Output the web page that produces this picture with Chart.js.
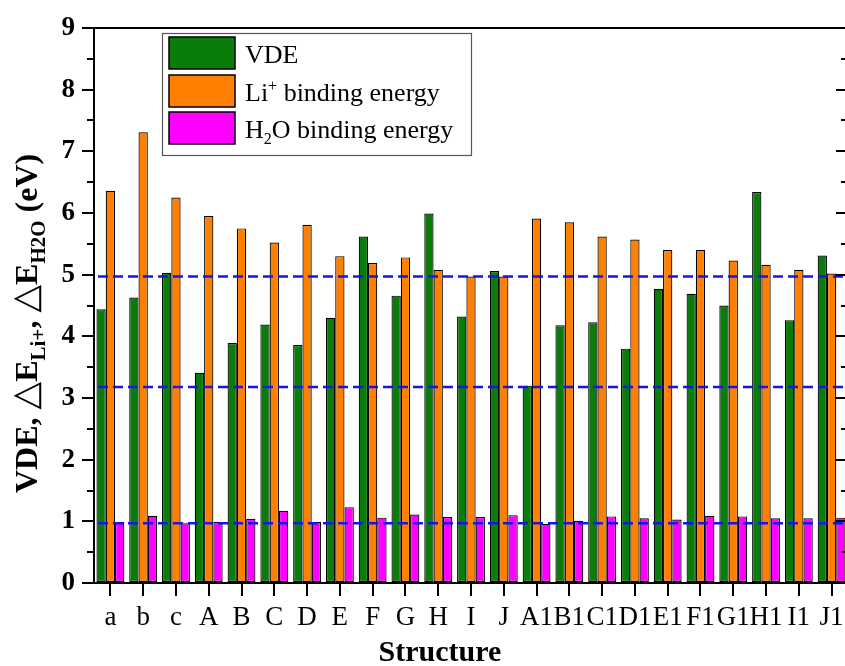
<!DOCTYPE html>
<html>
<head>
<meta charset="utf-8">
<script src="https://cdn.jsdelivr.net/npm/chart.js@4.4.1/dist/chart.umd.min.js"></script>
<style>
  html, body { margin: 0; padding: 0; overflow: hidden; background: #fff; }
  #chart { display: block; }
</style>
</head>
<body>
<canvas id="chart" width="860" height="666"></canvas>
<script>
const structures = ["a", "b", "c", "A", "B", "C", "D", "E", "F", "G", "H", "I", "J",
  "A1", "B1", "C1", "D1", "E1", "F1", "G1", "H1", "I1", "J1"];
const vde = [4.44, 4.63, 5.03, 3.41, 3.89, 4.19, 3.86, 4.30, 5.62, 4.66, 5.99, 4.32, 5.06,
  3.20, 4.18, 4.23, 3.80, 4.77, 4.69, 4.50, 6.34, 4.26, 5.31];
const liBinding = [6.36, 7.31, 6.25, 5.95, 5.75, 5.52, 5.81, 5.30, 5.19, 5.28, 5.08, 4.97, 4.97,
  5.91, 5.85, 5.62, 5.57, 5.40, 5.40, 5.23, 5.16, 5.08, 5.02];
const h2oBinding = [0.99, 1.09, 0.97, 0.99, 1.04, 1.17, 0.99, 1.23, 1.06, 1.11, 1.07, 1.07, 1.10,
  0.96, 1.01, 1.08, 1.05, 1.03, 1.09, 1.08, 1.05, 1.05, 1.06];
const refLines = [4.97, 3.18, 0.97];
const yTicks = [0, 1, 2, 3, 4, 5, 6, 7, 8, 9];

const SERIF = "'Liberation Serif', 'Times New Roman', serif";
const GREEN = "#0a7c0a";
const ORANGE = "#ff8000";
const MAGENTA = "#ff00ff";

// draws a run of text pieces, each with its own font and vertical shift
function drawRuns(ctx, runs, x, y) {
  runs.forEach((r) => {
    ctx.font = r.font;
    ctx.fillText(r.text, x, y + (r.dy || 0));
    x += ctx.measureText(r.text).width;
  });
}

const decor = {
  id: "decor",
  afterDatasetsDraw(chart) {
    const ctx = chart.ctx;
    const area = chart.chartArea;
    const y = chart.scales.y;
    ctx.save();
    ctx.strokeStyle = "#1414ee";
    ctx.lineWidth = 2.5;
    ctx.setLineDash([10, 5]);
    refLines.forEach((v) => {
      const py = y.getPixelForValue(v);
      ctx.beginPath();
      ctx.moveTo(area.left + 4, py);
      ctx.lineTo(area.right, py);
      ctx.stroke();
    });
    ctx.restore();
  },
  afterDraw(chart) {
    const ctx = chart.ctx;
    const area = chart.chartArea;
    const y = chart.scales.y;
    ctx.save();

    // top and right frame
    ctx.strokeStyle = "#000";
    ctx.lineWidth = 2;
    ctx.beginPath();
    ctx.moveTo(area.left - 12, area.top);
    ctx.lineTo(area.right, area.top);
    ctx.lineTo(area.right, area.bottom);
    ctx.stroke();

    // minor ticks on left, inward ticks on right
    for (let v = 0; v <= 9; v += 0.5) {
      const py = Math.round(y.getPixelForValue(v));
      const major = v % 1 === 0;
      ctx.beginPath();
      if (!major) {
        ctx.moveTo(area.left - 7, py);
        ctx.lineTo(area.left, py);
      }
      ctx.moveTo(area.right - (major ? 12 : 7), py);
      ctx.lineTo(area.right, py);
      ctx.stroke();
    }

    // legend
    ctx.strokeStyle = "#555";
    ctx.lineWidth = 1.2;
    ctx.strokeRect(162.5, 33.5, 309, 122);
    const rows = [
      { color: GREEN, top: 37, runs: [{ text: "VDE", font: "26px " + SERIF }] },
      { color: ORANGE, top: 75, runs: [
        { text: "Li", font: "26px " + SERIF },
        { text: "+", font: "16px " + SERIF, dy: -10 },
        { text: " binding energy", font: "26px " + SERIF }] },
      { color: MAGENTA, top: 112, runs: [
        { text: "H", font: "26px " + SERIF },
        { text: "2", font: "16px " + SERIF, dy: 6 },
        { text: "O binding energy", font: "26px " + SERIF }] },
    ];
    rows.forEach((r) => {
      ctx.fillStyle = r.color;
      ctx.fillRect(169, r.top, 66, 32);
      ctx.strokeStyle = "#000";
      ctx.lineWidth = 1.5;
      ctx.strokeRect(169, r.top, 66, 32);
      ctx.fillStyle = "#000";
      ctx.textBaseline = "alphabetic";
      ctx.textAlign = "left";
      drawRuns(ctx, r.runs, 245, r.top + 26);
    });

    // y axis title with subscripts
    ctx.save();
    ctx.translate(37, 493);
    ctx.rotate(-Math.PI / 2);
    const big = "bold 32px " + SERIF;
    const sub = "bold 21px " + SERIF;
    const tri = "36px 'DejaVu Sans', sans-serif";
    drawRuns(ctx, [
      { text: "VDE, ", font: big },
      { text: "\u25B3", font: tri },
      { text: "E", font: big },
      { text: "Li+", font: sub, dy: 8 },
      { text: ", ", font: big },
      { text: "\u25B3", font: tri },
      { text: "E", font: big },
      { text: "H2O", font: sub, dy: 8 },
      { text: " (eV)", font: big },
    ], 0, 0);
    ctx.restore();

    // x axis title
    ctx.font = "bold 30px " + SERIF;
    ctx.textAlign = "center";
    ctx.fillText("Structure", 440, 661);
    ctx.restore();
  },
};

const barStyle = { borderColor: "#000", borderWidth: 1.2, borderSkipped: false };

new Chart(document.getElementById("chart"), {
  type: "bar",
  data: {
    labels: structures,
    datasets: [
      { label: "VDE", data: vde, backgroundColor: GREEN, ...barStyle },
      { label: "Li+ binding energy", data: liBinding, backgroundColor: ORANGE, ...barStyle },
      { label: "H2O binding energy", data: h2oBinding, backgroundColor: MAGENTA, ...barStyle },
    ],
  },
  options: {
    responsive: false,
    animation: false,
    devicePixelRatio: 1,
    layout: { padding: { left: 0, right: 12, top: 28, bottom: 0 } },
    datasets: { bar: { categoryPercentage: 0.85, barPercentage: 1.0 } },
    plugins: { legend: { display: false }, tooltip: { enabled: false } },
    scales: {
      x: {
        offset: true,
        grid: { offset: false, drawOnChartArea: false, drawTicks: true, tickLength: 13, color: "#000", lineWidth: 2 },
        border: { display: true, color: "#000", width: 2 },
        ticks: {
          autoSkip: false, maxRotation: 0, minRotation: 0, padding: 6,
          color: "#000", font: { family: SERIF, size: 27 },
        },
        afterFit(scale) { scale.height = 83; },
      },
      y: {
        min: 0,
        max: 9,
        afterBuildTicks(scale) { scale.ticks = yTicks.map((v) => ({ value: v })); },
        grid: { drawOnChartArea: false, drawTicks: true, tickLength: 12, color: "#000", lineWidth: 2 },
        border: { display: true, color: "#000", width: 2 },
        ticks: { padding: 7, color: "#000", font: { family: SERIF, size: 27, weight: "bold" } },
        afterFit(scale) { scale.width = 94; },
      },
    },
  },
  plugins: [decor],
});
</script>
</body>
</html>
